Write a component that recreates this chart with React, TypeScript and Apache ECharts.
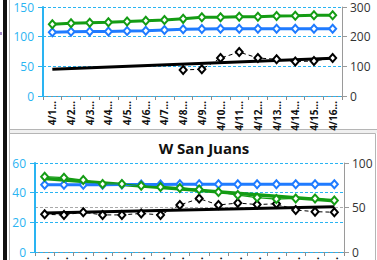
import React, { useEffect, useRef } from 'react';
import * as echarts from 'echarts';

const categories = ['4/1...', '4/2...', '4/3...', '4/4...', '4/5...', '4/6...', '4/7...', '4/8...', '4/9...', '4/10...', '4/11...', '4/12...', '4/13...', '4/14...', '4/15...', '4/16...'];

// Top chart (left axis 0-150, right axis 0-300)
const topLeftTicks = { min: 0, max: 150, interval: 50 };
const topRightTicks = { min: 0, max: 300, interval: 100 };
const topGreen = [121, 122.6, 123.6, 124.3, 125.4, 127, 128, 130, 132.7, 132.7, 133.7, 133.7, 134.9, 135.4, 136, 136];
const topBlue = [107.4, 108.4, 108.6, 108.8, 109.6, 110, 111.3, 112.4, 113, 113.2, 113.4, 113.5, 113.5, 113.5, 113.5, 113.5];
const topBlackTrend = [45, null, null, null, null, null, null, null, null, null, null, null, null, null, null, 63.5];
const topBlackData = [null, null, null, null, null, null, null, 44, 45, 64, 74, 64, 62, 58, 59, 64];

// Bottom chart "W San Juans" (left axis 0-60, right axis 0-100)
const bottomTitle = 'W San Juans';
const botLeftTicks = { min: 0, max: 60, interval: 20 };
const botRightTicks = { min: 0, max: 100, interval: 50 };
const botBlue = [45.3, 45.4, 45.4, 45.4, 45.5, 45.5, 45.5, 45.6, 45.6, 45.6, 45.6, 45.6, 45.6, 45.6, 45.6, 45.6];
const botGreen = [50.8, 50.1, 48.5, 45.9, 45.9, 44.7, 43.8, 43.2, 42.1, 40.5, 38.4, 36.7, 35.7, 36.1, 36.1, 34.7];
const botGreenTrend = [49.5, null, null, null, null, null, null, null, null, null, null, null, null, null, null, 34.5];
const botBlackData = [25.4, 25, 26.8, 25, 25, 26, 25, 31.7, 36, 31.7, 33, 32, 32.5, 28.3, 27.2, 26.8];
const botBlackTrend = [26.3, null, null, null, null, null, null, null, null, null, null, null, null, null, null, 30.5];

const CYAN = '#2ab4f2';
const GREEN = '#149c14';
const BLUE = '#1f7bff';
const BLACK = '#000';
const FONT = 'Open Sans';

function xAxis(gridIndex: number) {
  return {
    type: 'category',
    gridIndex,
    data: categories,
    boundaryGap: true,
    axisLine: { show: true, lineStyle: { color: '#8c8c8c', width: 1 } },
    axisTick: { show: true, length: 4, lineStyle: { color: '#8c8c8c' } },
    axisLabel: { rotate: 90, interval: 0, fontFamily: FONT, fontWeight: 'bold', fontSize: 10, color: '#111', margin: 5 },
    splitLine: { show: false },
  };
}

function leftAxis(gridIndex: number, t: any) {
  return {
    type: 'value', gridIndex, position: 'left', ...t, z: 3,
    axisLine: { show: true, lineStyle: { color: CYAN, width: 2 } },
    axisTick: { show: true, length: 5, lineStyle: { color: CYAN } },
    axisLabel: { color: CYAN, fontSize: 12, fontFamily: FONT, margin: 9 },
    splitLine: { show: true, lineStyle: { color: CYAN, type: [3, 2], width: 1 } },
  };
}

function rightAxis(gridIndex: number, t: any, split: boolean) {
  return {
    type: 'value', gridIndex, position: 'right', ...t, z: 1,
    axisLine: { show: true, lineStyle: { color: '#9a9a9a' } },
    axisTick: { show: true, length: 5, lineStyle: { color: '#9a9a9a' } },
    axisLabel: { color: '#333', fontSize: 12, fontFamily: FONT, margin: 8 },
    splitLine: { show: split, lineStyle: { color: '#aaa', type: [3, 2], width: 1 } },
  };
}

function dataLine(xi: number, yi: number, data: any[], color: string, width: number, dashed = false) {
  return {
    type: 'line', xAxisIndex: xi, yAxisIndex: yi, data,
    symbol: 'emptyDiamond', symbolSize: [7, 8],
    lineStyle: { color, width, type: dashed ? [4, 3] : 'solid' },
    itemStyle: { color, borderWidth: 1.2 },
    z: 4,
  };
}

function trendLine(xi: number, yi: number, data: any[], color: string, width: number) {
  return {
    type: 'line', xAxisIndex: xi, yAxisIndex: yi, data,
    connectNulls: true, showSymbol: false, symbol: 'none',
    lineStyle: { color, width },
    z: 3,
  };
}

const option: any = {
  animation: false,
  backgroundColor: '#fff',
  grid: [
    { left: 43, top: 7, width: 299, height: 89, containLabel: false, outerBoundsMode: 'none' },
    { left: 35, top: 163, width: 309, height: 89, containLabel: false, outerBoundsMode: 'none' },
  ],
  xAxis: [xAxis(0), xAxis(1)],
  yAxis: [
    leftAxis(0, topLeftTicks),
    rightAxis(0, topRightTicks, false),
    leftAxis(1, botLeftTicks),
    rightAxis(1, botRightTicks, true),
  ],
  series: [
    trendLine(0, 0, topBlackTrend, BLACK, 3),
    dataLine(0, 0, topBlackData, BLACK, 1, true),
    dataLine(0, 0, topBlue, BLUE, 3),
    dataLine(0, 0, topGreen, GREEN, 3),

    trendLine(1, 2, botBlackTrend, BLACK, 3),
    dataLine(1, 2, botBlackData, BLACK, 1, true),
    dataLine(1, 2, botBlue, BLUE, 3),
    trendLine(1, 2, botGreenTrend, GREEN, 3.5),
    dataLine(1, 2, botGreen, GREEN, 1.2),
  ],
  graphic: [
    { type: 'rect', shape: { x: 3, y: 0, width: 4, height: 260 }, style: { fill: '#111' }, silent: true },
    { type: 'rect', shape: { x: 0, y: 32, width: 2, height: 3 }, style: { fill: '#a58cc8' }, silent: true },
    { type: 'line', shape: { x1: 9.5, y1: 0, x2: 9.5, y2: 260 }, style: { stroke: '#b5b5b5', lineWidth: 1 }, silent: true },
    { type: 'rect', shape: { x: 10, y: 130, width: 367, height: 3 }, style: { fill: '#f0f0f0' }, silent: true },
    { type: 'line', shape: { x1: 10, y1: 129.5, x2: 377, y2: 129.5 }, style: { stroke: '#b5b5b5', lineWidth: 1 }, silent: true },
    { type: 'line', shape: { x1: 10, y1: 133.5, x2: 375.5, y2: 133.5 }, style: { stroke: '#b5b5b5', lineWidth: 1 }, silent: true },
    { type: 'line', shape: { x1: 375.5, y1: 133.5, x2: 375.5, y2: 260 }, style: { stroke: '#b5b5b5', lineWidth: 1 }, silent: true },
    {
      type: 'text', x: 204, y: 148,
      style: { text: bottomTitle, font: `bold 15px "${FONT}"`, fill: '#111', align: 'center', verticalAlign: 'middle' },
    },
  ],
};

export default function App() {
  const ref = useRef<HTMLDivElement>(null);
  useEffect(() => {
    document.body.style.margin = '0';
    const chart = echarts.init(ref.current!, null, { renderer: 'svg' });
    chart.setOption(option);
    return () => chart.dispose();
  }, []);
  return <div ref={ref} style={{ position: 'absolute', left: 0, top: 0, width: 377, height: 260 }} />;
}
